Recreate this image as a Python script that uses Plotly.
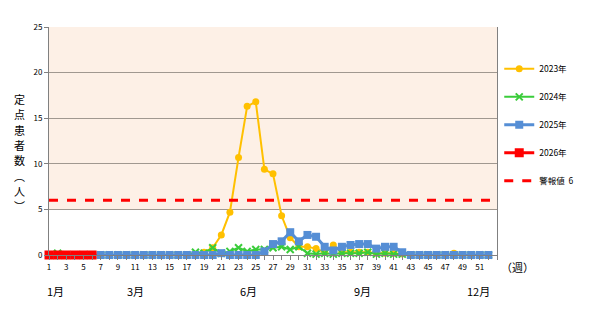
import plotly.graph_objects as go

weeks = list(range(1, 53))
weeks_2026 = [1, 2, 3, 4, 5, 6]

y2023 = [0, 0, 0, 0, 0, 0, 0, 0, 0, 0, 0, 0, 0, 0, 0, 0, 0, 0, 0.3, 0.8,
         2.2, 4.7, 10.7, 16.3, 16.8, 9.4, 8.9, 4.3, 1.9, 0.9,
         0.9, 0.7, 0.3, 1.1, 0.3, 0.3, 0.3, 0.3, 0.2, 0.2,
         0.2, 0.1, 0, 0, 0, 0, 0, 0.2, 0, 0, 0, 0]
y2024 = [0, 0.2, 0, 0, 0, 0, 0, 0, 0, 0, 0, 0, 0, 0, 0, 0, 0, 0.3, 0.2, 0.8,
         0.2, 0.4, 0.8, 0.4, 0.6, 0.6, 0.8, 0.9, 0.6, 0.9,
         0.2, 0.1, 0.2, 0.1, 0.2, 0.2, 0.2, 0.3, 0.1, 0.2,
         0.1, 0.1, 0, 0, 0, 0, 0, 0, 0, 0, 0, 0]
y2025 = [0, 0, 0, 0, 0, 0, 0, 0, 0, 0, 0, 0, 0, 0, 0, 0, 0, 0, 0, 0,
         0.2, 0, 0, 0, 0, 0.4, 1.2, 1.5, 2.5, 1.5,
         2.2, 2.0, 0.9, 0.5, 0.9, 1.1, 1.2, 1.2, 0.7, 0.9,
         0.9, 0.3, 0, 0, 0, 0, 0, 0, 0, 0, 0, 0]
y2026 = [0, 0, 0, 0, 0, 0]

warn_level = 6
warn_x = [1, 53]

tick_vals = list(range(1, 54))
tick_text = [str(w) if (w % 2 == 1 and w <= 51) else "" for w in tick_vals]

month_labels = ["1月", "3月", "6月", "9月", "12月"]
month_pos = [1.8, 11.0, 24.1, 37.4, 50.8]

y_title = "定点患者数︵人︶"

FONT = "Noto Sans CJK JP"

fig = go.Figure()
fig.add_trace(go.Scatter(x=weeks, y=y2023, name="2023年", mode="lines+markers",
                         line=dict(color="#FFC000", width=2),
                         marker=dict(symbol="circle", size=7, color="#FFC000"),
                         legendgroup="a", cliponaxis=False))
fig.add_trace(go.Scatter(x=weeks, y=y2024, name="2024年", mode="lines+markers",
                         line=dict(color="#3ACC3A", width=2),
                         marker=dict(symbol="x-thin", size=7, line=dict(color="#3ACC3A", width=2)),
                         legendgroup="b", cliponaxis=False))
fig.add_trace(go.Scatter(x=weeks, y=y2025, name="2025年", mode="lines+markers",
                         line=dict(color="#558ED5", width=3),
                         marker=dict(symbol="square", size=8, color="#558ED5"),
                         legendgroup="c", cliponaxis=False))
fig.add_trace(go.Scatter(x=weeks_2026, y=y2026, name="2026年", mode="lines+markers",
                         line=dict(color="#FF0000", width=3),
                         marker=dict(symbol="square", size=9, color="#FF0000"),
                         legendgroup="d", cliponaxis=False))
fig.add_trace(go.Scatter(x=warn_x, y=[warn_level, warn_level], name="警報値  6", mode="lines",
                         line=dict(color="#FF0000", width=3, dash="dash"),
                         legendgroup="e"))

fig.add_shape(type="rect", xref="paper", yref="y", x0=0, x1=1, y0=5, y1=25,
              fillcolor="#FDF0E6", line=dict(width=0), layer="below")

annotations = []
for lab, pos in zip(month_labels, month_pos):
    annotations.append(dict(x=pos, y=-0.16, xref="x", yref="paper", text=lab,
                            showarrow=False, font=dict(size=11, color="#000"),
                            xanchor="center", yanchor="middle"))
annotations.append(dict(x=1.005, y=-0.0, xref="paper", yref="paper", text="（週）",
                        showarrow=False, font=dict(size=11, color="#000"),
                        xanchor="left", yanchor="top", yshift=-2))
for i, ch in enumerate(y_title):
    annotations.append(dict(x=-0.065, y=1, xref="paper", yref="paper", text=ch,
                            showarrow=False, font=dict(size=11, color="#000"),
                            xanchor="center", yanchor="middle",
                            yshift=-(72 + i * 15.3), borderpad=0))

fig.update_layout(
    width=607, height=311,
    margin=dict(l=49, r=110, t=27, b=56),
    plot_bgcolor="white", paper_bgcolor="white",
    font=dict(family=FONT, size=8, color="#000"),
    showlegend=True,
    legend=dict(x=1.005, y=0.88, xanchor="left", yanchor="top",
                font=dict(size=8.5), tracegroupgap=9, bgcolor="rgba(0,0,0,0)"),
    xaxis=dict(range=[1, 53], tickvals=tick_vals, ticktext=tick_text,
               ticks="outside", ticklen=4, tickcolor="#808080",
               showgrid=False, zeroline=False,
               showline=True, linecolor="#808080", linewidth=1,
               tickfont=dict(size=8)),
    yaxis=dict(range=[0, 25], tickvals=[0, 5, 10, 15, 20, 25],
               ticks="outside", ticklen=4, tickcolor="#808080",
               showgrid=True, gridcolor="#A09890", gridwidth=1,
               zeroline=False, showline=True, linecolor="#808080", linewidth=1,
               mirror=True, tickfont=dict(size=8)),
    annotations=annotations,
)

fig.write_html("out.html")
